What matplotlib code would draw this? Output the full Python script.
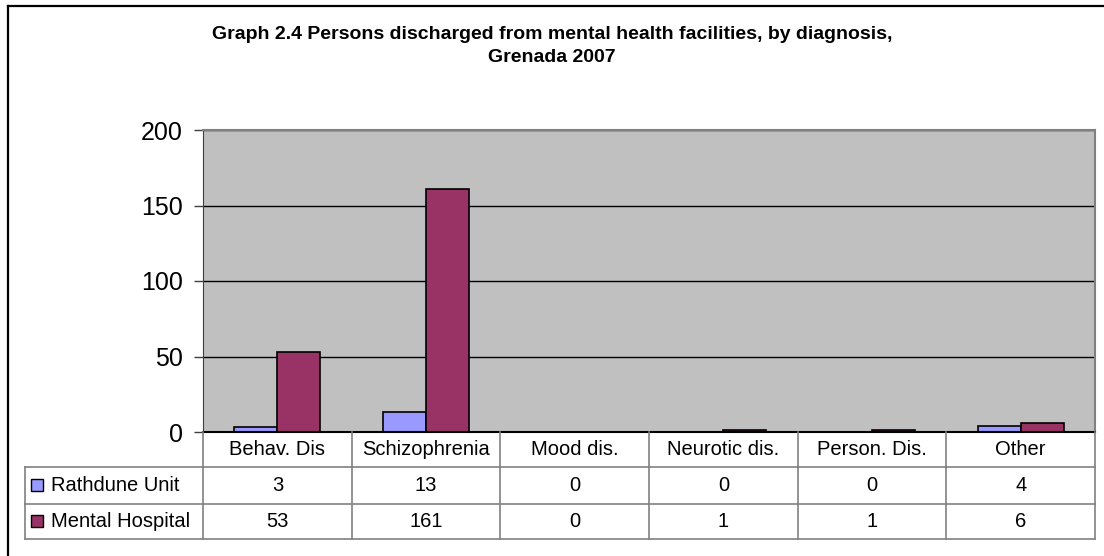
import matplotlib
matplotlib.use("Agg")
import matplotlib.pyplot as plt
import numpy as np
from matplotlib.lines import Line2D

# Data
categories = ["Behav. Dis", "Schizophrenia", "Mood dis.", "Neurotic dis.", "Person. Dis.", "Other"]
series_names = ["Rathdune Unit", "Mental Hospital"]
rathdune = [3, 13, 0, 0, 0, 4]
mental_hospital = [53, 161, 0, 1, 1, 6]
y_ticks = [0, 50, 100, 150, 200]
colors = ["#9999FF", "#993366"]

title = "Graph 2.4 Persons discharged from mental health facilities, by diagnosis,\nGrenada 2007"

plt.rcParams['font.family'] = ['Liberation Sans', 'DejaVu Sans']

W, H = 1104, 556
fig = plt.figure(figsize=(W / 100, H / 100), dpi=100)

# plot area in pixels
left, right, top, bottom = 203, 1095, 130, 432
tab_bottom = 539
row_edges = [432, 467, 504, 539]
ax = fig.add_axes([left / W, 1 - bottom / H, (right - left) / W, (bottom - top) / H])
ax.set_facecolor('#C0C0C0')

x = np.arange(len(categories))
w = 0.29
ax.bar(x - w / 2, rathdune, w, color=colors[0], edgecolor='black', linewidth=1.2, zorder=3)
ax.bar(x + w / 2, mental_hospital, w, color=colors[1], edgecolor='black', linewidth=1.2, zorder=3)

ax.set_xlim(-0.5, len(categories) - 0.5)
ax.set_ylim(0, 200)
ax.set_yticks(y_ticks)
ax.yaxis.grid(True, color='black', linewidth=1)
ax.set_axisbelow(True)
ax.set_xticks([])
ax.tick_params(axis='y', labelsize=18, length=6.5, width=1, color='#404040', pad=8)
for s in ['top', 'right']:
    ax.spines[s].set_color('#808080')
    ax.spines[s].set_linewidth(1.5)
ax.spines['left'].set_color('#404040')
ax.spines['bottom'].set_color('black')
ax.spines['bottom'].set_linewidth(1.5)
ax.spines['bottom'].set_zorder(4)

# Data table below the plot (y axis in pixels, downward)
tax = fig.add_axes([left / W, 1 - tab_bottom / H, (right - left) / W, (tab_bottom - bottom) / H])
tax.set_xlim(-0.5, len(categories) - 0.5)
tax.set_ylim(tab_bottom, bottom)
tax.axis('off')

def px_to_x(px):
    return (px - left) / (right - left) * len(categories) - 0.5

lab_left = px_to_x(25)
key_x = px_to_x(37)
text_x = px_to_x(51)
grid_c = '#808080'

for k in range(len(categories) + 1):
    tax.plot([k - 0.5, k - 0.5], [row_edges[0], row_edges[-1]], color=grid_c, lw=1.2, clip_on=False)
for yy in row_edges[1:]:
    tax.plot([lab_left, len(categories) - 0.5], [yy, yy], color=grid_c, lw=1.2, clip_on=False)
tax.plot([lab_left, lab_left], [row_edges[1], row_edges[-1]], color=grid_c, lw=1.2, clip_on=False)

fs = 14.5
hc = (row_edges[0] + row_edges[1]) / 2
for i, c in enumerate(categories):
    tax.text(i, hc, c, ha='center', va='center', fontsize=fs)
for r, (name, vals) in enumerate(zip(series_names, [rathdune, mental_hospital])):
    yc = (row_edges[r + 1] + row_edges[r + 2]) / 2
    tax.plot([key_x], [yc], marker='s', markersize=8, markerfacecolor=colors[r],
             markeredgecolor='black', markeredgewidth=1, clip_on=False)
    tax.text(text_x, yc, name, ha='left', va='center', fontsize=fs)
    for i, v in enumerate(vals):
        tax.text(i, yc, str(v), ha='center', va='center', fontsize=fs)

# Title
fig.text(0.5, 1 - 46 / H, title, ha='center', va='center', fontsize=14,
         fontweight='bold', linespacing=1.45)

# Outer chart frame (left and top edges visible)
fig.add_artist(Line2D([8 / W, 8 / W], [0, 1 - 6 / H], color='black', lw=1.6,
                      transform=fig.transFigure))
fig.add_artist(Line2D([8 / W, 1], [1 - 6 / H, 1 - 6 / H], color='black', lw=1.6,
                      transform=fig.transFigure))

fig.savefig('out.png', dpi=100)
